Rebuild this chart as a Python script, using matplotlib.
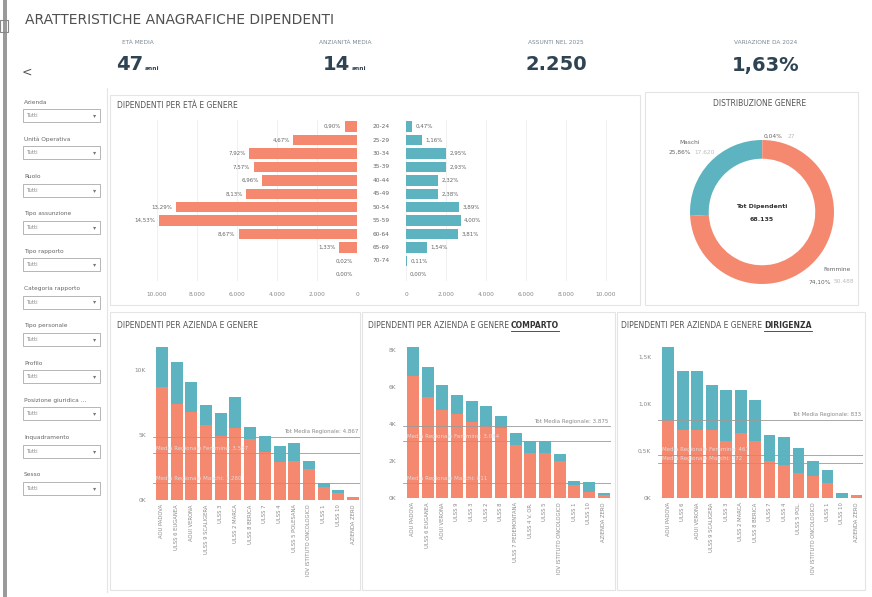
import matplotlib
matplotlib.use("Agg")
import matplotlib.pyplot as plt
from matplotlib.patches import Rectangle
from matplotlib.lines import Line2D
from matplotlib import transforms

# ---------------------------------------------------------------- data
kpi_labels = ["ETÀ MEDIA", "ANZIANITÀ MEDIA", "ASSUNTI NEL 2025", "VARIAZIONE DA 2024"]
kpi_values = ["47", "14", "2.250", "1,63%"]
kpi_units = ["anni", "anni", "", ""]

filters = ["Azienda", "Unità Operativa", "Ruolo", "Tipo assunzione", "Tipo rapporto",
           "Categoria rapporto", "Tipo personale", "Profilo", "Posizione giuridica ...",
           "Inquadramento", "Sesso"]

ages = ["20-24", "25-29", "30-34", "35-39", "40-44", "45-49", "50-54",
        "55-59", "60-64", "65-69", "70-74", ""]
pct_f = [0.90, 4.67, 7.92, 7.57, 6.96, 8.13, 13.29, 14.53, 8.67, 1.33, 0.02, 0.00]
pct_m = [0.47, 1.16, 2.95, 2.93, 2.32, 2.38, 3.89, 4.00, 3.81, 1.54, 0.11, 0.00]
tot_dip = 68135

genders = ["Maschi", "Femmine", "N.D."]
gender_counts = [17620, 50488, 27]

names_tot = ["AOU PADOVA", "ULSS 6 EUGANEA", "AOUI VERONA", "ULSS 9 SCALIGERA",
             "ULSS 3", "ULSS 2 MARCA", "ULSS 8 BERICA", "ULSS 7", "ULSS 4",
             "ULSS 5 POLESANA", "IOV ISTITUTO ONCOLOGICO", "ULSS 1", "ULSS 10",
             "AZIENDA ZERO"]
fem_tot = [8700, 7400, 6800, 5800, 4900, 5500, 4700, 3700, 2900, 3000, 2400, 1000, 500, 200]
mas_tot = [3100, 3200, 2300, 1500, 1800, 2400, 900, 1200, 1250, 1400, 600, 330, 270, 60]
ref_tot = [4867, 3587, 1280]

names_comp = ["AOU PADOVA", "ULSS 6 EUGANEA", "AOUI VERONA", "ULSS 9", "ULSS 3",
              "ULSS 2", "ULSS 8", "ULSS 7 PEDEMONTANA", "ULSS 4 V. OR.", "ULSS 5",
              "IOV ISTITUTO ONCOLOGICO", "ULSS 1", "ULSS 10", "AZIENDA ZERO"]
fem_comp = [6610, 5460, 4770, 4560, 4090, 3910, 3780, 2880, 2430, 2430, 1980, 720, 310, 180]
mas_comp = [1550, 1620, 1360, 1030, 1140, 1040, 630, 630, 630, 670, 400, 180, 540, 90]
ref_comp = [3875, 3064, 811]

names_dir = ["AOU PADOVA", "ULSS 6", "AOUI VERONA", "ULSS 9 SCALIGERA", "ULSS 3",
             "ULSS 2 MARCA", "ULSS 8 BERICA", "ULSS 7", "ULSS 4", "ULSS 5 POL.",
             "IOV ISTITUTO ONCOLOGICO", "ULSS 1", "ULSS 10", "AZIENDA ZERO"]
fem_dir = [834, 727, 727, 727, 603, 692, 603, 390, 355, 266, 230, 160, 5, 32]
mas_dir = [772, 621, 621, 479, 542, 453, 443, 284, 290, 266, 160, 141, 48, 0]
ref_dir = [833, 461, 372]

# ---------------------------------------------------------------- style
W, H = 872, 597
C_F = "#F5896F"
C_M = "#5DB4C0"
C_TXT = "#666666"
C_KPI = "#2E4453"
C_LINE = "#E4E4E4"


def box(x0, y0, x1, y1):
    return [x0 / W, 1 - y1 / H, (x1 - x0) / W, (y1 - y0) / H]


def ftext(x, y, s, **kw):
    return fig.text(x / W, 1 - y / H, s, **kw)


def frame(x0, y0, x1, y1, color=C_LINE, lw=0.8):
    fig.patches.append(Rectangle((x0 / W, 1 - y1 / H), (x1 - x0) / W, (y1 - y0) / H,
                                 transform=fig.transFigure, fill=False,
                                 edgecolor=color, linewidth=lw))


def it_num(v):
    return f"{v:,.0f}".replace(",", ".")


def it_pct(p):
    return f"{p:.2f}%".replace(".", ",")


fig = plt.figure(figsize=(W / 100, H / 100), dpi=100)
fig.patch.set_facecolor("white")

# left edge of the screenshot
fig.patches.append(Rectangle((0.003, 0), 4 / W, 1, transform=fig.transFigure,
                             facecolor="#9a9a9a", edgecolor="none"))
frame(0, 20, 8, 32, color="#888888", lw=0.8)

# ---------------------------------------------------------------- header
ftext(25, 20, "ARATTERISTICHE ANAGRAFICHE DIPENDENTI", fontsize=10, color="#505050",
      va="center", ha="left")
ftext(27, 72, "<", fontsize=9, color="#555555", va="center", ha="center")

kpi_x = [138, 345, 556, 766]
for x, lab, val, unit in zip(kpi_x, kpi_labels, kpi_values, kpi_units):
    ftext(x, 43, lab, fontsize=4.2, color="#7a8a95", ha="center", va="center")
    if unit:
        ftext(x + 5, 65, val, fontsize=14, fontweight="bold", color=C_KPI,
              ha="right", va="center")
        ftext(x + 7, 69, unit, fontsize=4.2, fontweight="bold", color=C_KPI,
              ha="left", va="center")
    else:
        ftext(x, 65, val, fontsize=14, fontweight="bold", color=C_KPI,
              ha="center", va="center")

# ---------------------------------------------------------------- filters
fig.add_artist(Line2D([107 / W, 107 / W], [1 - 88 / H, 1 - 592 / H],
                      transform=fig.transFigure, color=C_LINE, lw=0.8))
for i, name in enumerate(filters):
    y = 102 + 37.3 * i
    ftext(24, y, name, fontsize=4.2, color=C_TXT, va="center", ha="left")
    frame(23, y + 7, 100, y + 20, color="#b5b5b5", lw=0.7)
    ftext(27, y + 13.5, "Tutti", fontsize=3.8, color="#888888", va="center")
    ftext(95, y + 13.5, "▾", fontsize=4.5, color="#777777", va="center", ha="center")

# ---------------------------------------------------------------- pyramid
frame(110, 95, 640, 305)
ftext(117, 106, "DIPENDENTI PER ETÀ E GENERE", fontsize=5.5, color="#555555", va="center")

cnt_f = [p * tot_dip / 100 for p in pct_f]
cnt_m = [p * tot_dip / 100 for p in pct_m]
rows = list(range(len(ages)))
xt = [0, 2000, 4000, 6000, 8000, 10000]

ax_f = fig.add_axes(box(147, 120, 357, 281))
ax_m = fig.add_axes(box(406, 120, 616, 281))
for ax in (ax_f, ax_m):
    for s in ax.spines.values():
        s.set_visible(False)
    ax.set_ylim(len(ages) - 0.5, -0.5)
    ax.set_yticks([])
    ax.set_xticks(xt)
    ax.set_xticklabels([it_num(v) for v in xt])
    ax.tick_params(axis="x", length=0, labelsize=4.2, labelcolor="#888888", pad=8)
    ax.grid(axis="x", color="#EEEEEE", lw=0.6)
    ax.set_axisbelow(True)
ax_f.set_xlim(10500, 0)
ax_m.set_xlim(0, 10500)
ax_f.barh(rows, cnt_f, height=0.78, color=C_F)
ax_m.barh(rows, cnt_m, height=0.78, color=C_M)
for i in rows:
    ax_f.text(cnt_f[i] + 180, i, it_pct(pct_f[i]), fontsize=4, color=C_TXT,
              ha="right", va="center")
    ax_m.text(cnt_m[i] + 180, i, it_pct(pct_m[i]), fontsize=4, color=C_TXT,
              ha="left", va="center")
    ax_m.text(-0.119, i, ages[i], fontsize=4.2, color=C_TXT, ha="center", va="center",
              transform=transforms.blended_transform_factory(ax_m.transAxes, ax_m.transData))

# ---------------------------------------------------------------- donut
frame(645, 92, 858, 305)
ftext(760, 103, "DISTRIBUZIONE GENERE", fontsize=5.5, color="#555555", ha="center", va="center")
ax_d = fig.add_axes(box(690, 140, 834, 284))
ax_d.pie(gender_counts, colors=[C_M, C_F, "#cccccc"], startangle=90, counterclock=True,
         radius=1, wedgeprops=dict(width=0.26, edgecolor="none"))
ax_d.set_xlim(-1, 1)
ax_d.set_ylim(-1, 1)
ax_d.set_aspect("equal")
ax_d.axis("off")
tot_g = sum(gender_counts)
gp = [c / tot_g * 100 for c in gender_counts]
ax_d.text(-1.0, 0.96, genders[0], fontsize=4.2, color=C_TXT, ha="center", va="center")
ax_d.text(-0.98, 0.83, it_pct(gp[0]), fontsize=4.2, color=C_TXT, ha="right", va="center")
ax_d.text(-0.94, 0.83, it_num(gender_counts[0]), fontsize=4.2, color="#bbbbbb", ha="left", va="center")
ax_d.text(1.04, -0.80, genders[1], fontsize=4.2, color=C_TXT, ha="center", va="center")
ax_d.text(0.96, -0.97, it_pct(gp[1]), fontsize=4.2, color=C_TXT, ha="right", va="center")
ax_d.text(1.0, -0.97, it_num(gender_counts[1]), fontsize=4.2, color="#bbbbbb", ha="left", va="center")
ax_d.text(0.02, 1.05, it_pct(gp[2]), fontsize=4.2, color=C_TXT, ha="left", va="center")
ax_d.text(0.36, 1.05, it_num(gender_counts[2]), fontsize=4.2, color="#bbbbbb", ha="left", va="center")
ax_d.text(0, 0.08, "Tot Dipendenti", fontsize=4.5, fontweight="bold", color="#333333",
          ha="center", va="center")
ax_d.text(0, -0.1, it_num(tot_g), fontsize=4.5, fontweight="bold", color="#333333",
          ha="center", va="center")


# ---------------------------------------------------------------- bar panels
def bar_panel(rect, fem, mas, names, ref, yticks, ylabels, ymax, xlim):
    ax = fig.add_axes(box(*rect))
    x = list(range(len(fem)))
    ax.bar(x, fem, width=0.82, color=C_F)
    ax.bar(x, mas, width=0.82, bottom=fem, color=C_M)
    for s in ax.spines.values():
        s.set_visible(False)
    ax.set_xlim(*xlim)
    ax.set_ylim(0, ymax)
    ax.set_yticks(yticks)
    ax.set_yticklabels(ylabels)
    ax.set_xticks(x)
    ax.set_xticklabels(names, rotation=90)
    ax.tick_params(length=0, labelsize=3.8, labelcolor="#888888", pad=3)
    ax.tick_params(axis="y", labelsize=4.2, pad=5)
    for v in ref:
        ax.axhline(v, color="#9a9a9a", lw=0.6)
    ax.text(0.99, ref[0] + ymax * 0.015, "Tot Media Regionale: " + it_num(ref[0]),
            transform=transforms.blended_transform_factory(ax.transAxes, ax.transData),
            fontsize=4, color="#8a8a8a", ha="right", va="bottom")
    ax.text(-0.4, ref[1] + ymax * 0.015, "Media Regionale Femmine: " + it_num(ref[1]),
            fontsize=4, color="#dddddd", ha="left", va="bottom")
    ax.text(-0.4, ref[2] + ymax * 0.015, "Media Regionale Maschi: " + it_num(ref[2]),
            fontsize=4, color="#dddddd", ha="left", va="bottom")
    return ax


def title_two(x, y, plain, bold):
    t = ftext(x, y, plain, fontsize=5.5, color="#555555", va="center")
    if bold:
        r = fig.canvas.get_renderer()
        bb = t.get_window_extent(r)
        t2 = fig.text(bb.x1 / W + 2 / W, 1 - y / H, bold,
                      fontsize=5.5, color="#333333", fontweight="bold", va="center")
        bb2 = t2.get_window_extent(r)
        fig.add_artist(Line2D([bb2.x0 / W, bb2.x1 / W],
                              [1 - (y + 5) / H, 1 - (y + 5) / H],
                              transform=fig.transFigure, color="#333333", lw=0.6))


frame(110, 312, 360, 590)
frame(362, 312, 615, 590)
frame(617, 312, 865, 590)
title_two(117, 326, "DIPENDENTI PER AZIENDA E GENERE", "")
title_two(368, 326, "DIPENDENTI PER AZIENDA E GENERE", "COMPARTO")
title_two(621, 326, "DIPENDENTI PER AZIENDA E GENERE", "DIRIGENZA")

bar_panel((153, 340, 361, 500), fem_tot, mas_tot, names_tot, ref_tot,
          [0, 5000, 10000], ["0K", "5K", "10K"], 12300, (-0.61, 13.54))
bar_panel((403, 340, 611, 498), fem_comp, mas_comp, names_comp, ref_comp,
          [0, 2000, 4000, 6000, 8000], ["0K", "2K", "4K", "6K", "8K"], 8540, (-0.68, 13.5))
bar_panel((658, 340, 863, 498), fem_dir, mas_dir, names_dir, ref_dir,
          [0, 500, 1000, 1500], ["0K", "0,5K", "1,0K", "1,5K"], 1680, (-0.7, 13.45))

fig.savefig("out.png", dpi=100)
